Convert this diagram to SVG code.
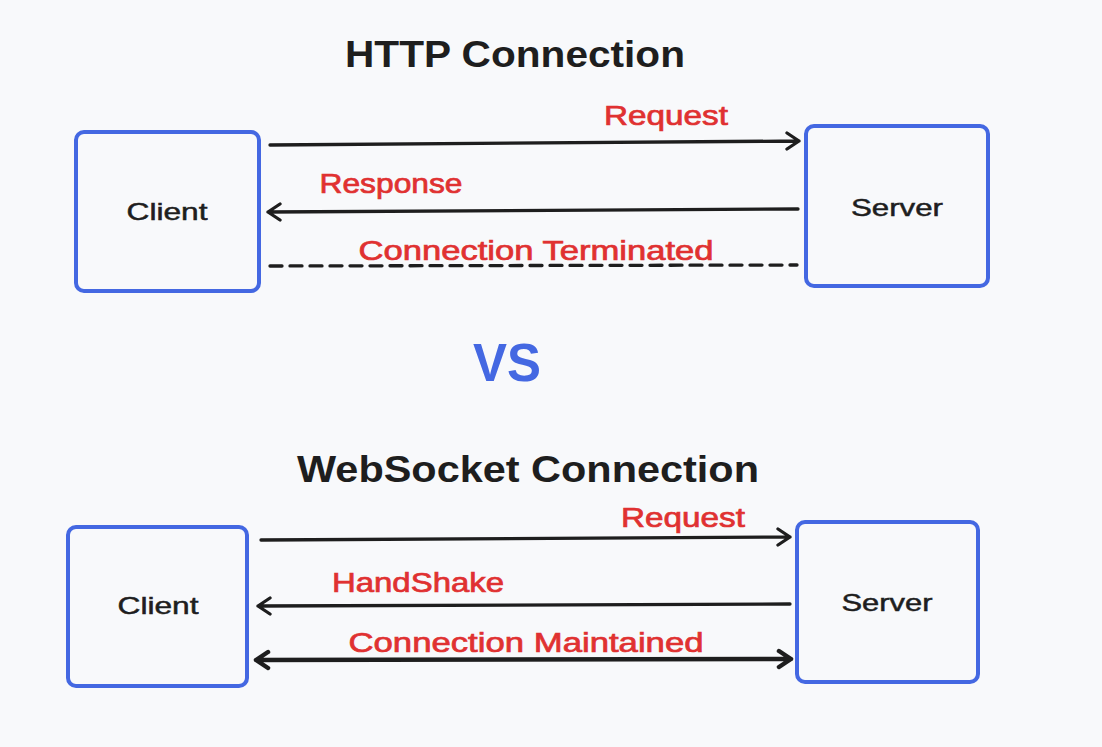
<svg xmlns="http://www.w3.org/2000/svg" width="1102" height="747" viewBox="0 0 1102 747">
<style>
.bg{fill:#f8f9fb}
.box{fill:#f8f9fb;stroke:#4468e2;stroke-width:4}
.t{font-family:"Liberation Sans",Arial,sans-serif;fill:#1e1e1e}
.title{font-size:36px;font-weight:bold}
.node{font-size:24px;stroke:#1e1e1e;stroke-width:0.5}
.lbl{font-family:"Liberation Sans",Arial,sans-serif;fill:#e03131;font-size:27px;stroke:#e03131;stroke-width:0.7}
.ln{stroke:#1e1e1e;stroke-width:3.3;fill:none;stroke-linecap:round;stroke-linejoin:round}
.thick{stroke-width:4.5}
</style>
<rect class="bg" x="0" y="0" width="1102" height="747"/>
<text class="t title" x="515" y="67" text-anchor="middle" textLength="340" lengthAdjust="spacingAndGlyphs">HTTP Connection</text>
<text x="507" y="381" text-anchor="middle" font-family="Liberation Sans,Arial,sans-serif" font-size="54" font-weight="bold" fill="#4468e2" textLength="68" lengthAdjust="spacingAndGlyphs">VS</text>
<text class="t title" x="528" y="482" text-anchor="middle" textLength="462" lengthAdjust="spacingAndGlyphs">WebSocket Connection</text>
<g id="client1"><rect class="box" x="76" y="132" width="183" height="159" rx="8"/><text class="t node" x="167" y="220" text-anchor="middle" textLength="81" lengthAdjust="spacingAndGlyphs">Client</text></g>
<g id="server1"><rect class="box" x="806" y="126" width="182" height="160" rx="8"/><text class="t node" x="897" y="216" text-anchor="middle" textLength="92" lengthAdjust="spacingAndGlyphs">Server</text></g>
<g id="client2"><rect class="box" x="68" y="527" width="179" height="159" rx="8"/><text class="t node" x="158" y="614" text-anchor="middle" textLength="81" lengthAdjust="spacingAndGlyphs">Client</text></g>
<g id="server2"><rect class="box" x="797" y="522" width="181" height="160" rx="8"/><text class="t node" x="887" y="611" text-anchor="middle" textLength="91" lengthAdjust="spacingAndGlyphs">Server</text></g>
<g id="connectors">
<path class="ln" d="M270 145 L799 141 M787 133 L799 141 L787 149"/>
<path class="ln" d="M798 209 L268 212 M280 204 L268 212 L280 220"/>
<path class="ln" d="M270 266 L797 265" stroke-dasharray="12 8" stroke-linecap="butt"/>
<path class="ln" d="M261 540 L790 537 M778 529 L790 537 L778 545"/>
<path class="ln" d="M790 604 L258 606 M270 598 L258 606 L270 614"/>
<path class="ln thick" d="M256 660 L791 659 M268 652 L256 660 L268 668 M779 651 L791 659 L779 667"/>
</g>
<g id="labels">
<text class="lbl" x="666" y="125" text-anchor="middle" textLength="124" lengthAdjust="spacingAndGlyphs">Request</text>
<text class="lbl" x="391" y="193" text-anchor="middle" textLength="143" lengthAdjust="spacingAndGlyphs">Response</text>
<text class="lbl" x="536" y="260" text-anchor="middle" textLength="355" lengthAdjust="spacingAndGlyphs">Connection Terminated</text>
<text class="lbl" x="683" y="527" text-anchor="middle" textLength="124" lengthAdjust="spacingAndGlyphs">Request</text>
<text class="lbl" x="418" y="592" text-anchor="middle" textLength="172" lengthAdjust="spacingAndGlyphs">HandShake</text>
<text class="lbl" x="526" y="652" text-anchor="middle" textLength="355" lengthAdjust="spacingAndGlyphs">Connection Maintained</text>
</g>
</svg>
